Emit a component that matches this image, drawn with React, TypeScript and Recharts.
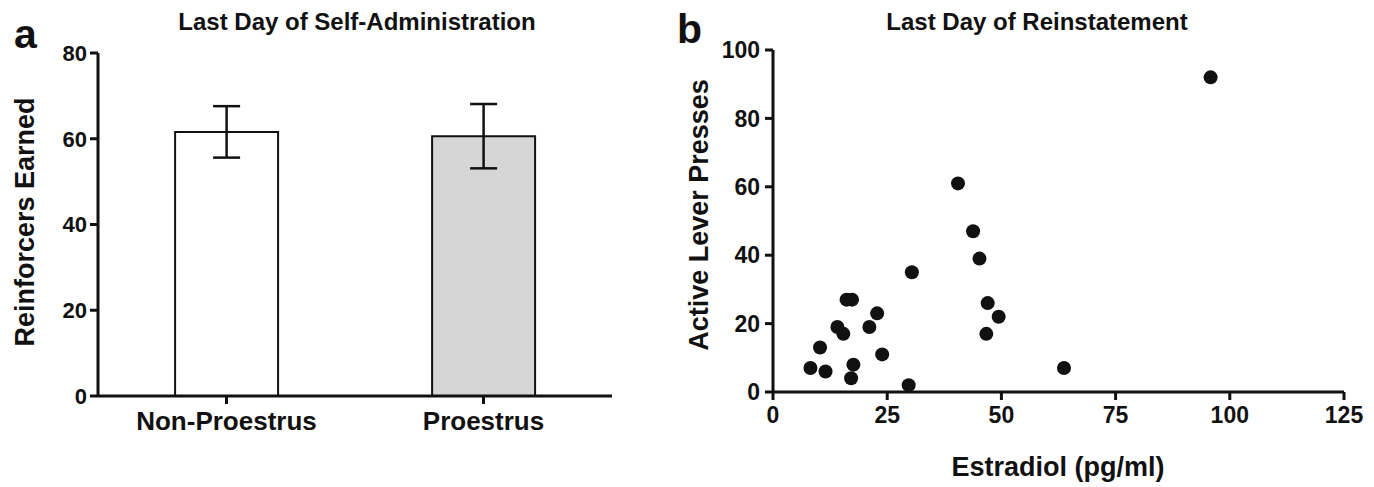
import { BarChart, Bar, Cell, XAxis, YAxis, ErrorBar, ScatterChart, Scatter } from "recharts"

// panel a: last day of self-administration
const groups = ["Non-Proestrus", "Proestrus"]
const reinforcers = [61.6, 60.6]
const reinforcersSem = [6.0, 7.5]
const barFills = ["#ffffff", "#d6d6d6"]
const reinforcerTicks = [0, 20, 40, 60, 80]

// panel b: last day of reinstatement, one point per rat
const estradiol = [8.2, 11.5, 10.3, 14.1, 15.4, 16.1, 17.3, 17.6, 17.1, 21.1, 22.8, 23.9, 30.4, 29.7, 45.2, 47.0, 49.4, 46.7, 63.7, 40.5, 43.8, 95.8]
const leverPresses = [7, 6, 13, 19, 17, 27, 27, 8, 4, 19, 23, 11, 35, 2, 39, 26, 22, 17, 7, 61, 47, 92]
const estradiolTicks = [0, 25, 50, 75, 100, 125]
const pressTicks = [0, 20, 40, 60, 80, 100]

const font = '"Liberation Sans", Arial, Helvetica, sans-serif'
const ink = "#111"

const barData = groups.map((g, i) => ({ group: g, mean: reinforcers[i], sem: reinforcersSem[i] }))
const scatterData = estradiol.map((x, i) => ({ x, y: leverPresses[i] }))

const axisLine = { stroke: ink, strokeWidth: 3 }
const tickLine = { stroke: ink, strokeWidth: 3 }

function SelfAdminPanel() {
  return (
    <BarChart
      width={620}
      height={487}
      data={barData}
      margin={{ top: 53, right: 8, left: 0, bottom: 51 }}
      barCategoryGap="30%"
      style={{ fontFamily: font }}
    >
      <XAxis
        dataKey="group"
        height={40}
        axisLine={axisLine}
        tickLine={tickLine}
        tickSize={8}
        tickMargin={8}
        tick={{ fontSize: 26, fontWeight: 700, fill: ink }}
      />
      <YAxis
        width={98}
        domain={[0, 80]}
        ticks={reinforcerTicks}
        axisLine={axisLine}
        tickLine={tickLine}
        tickSize={8}
        tickMargin={3}
        tick={{ fontSize: 22, fontWeight: 700, fill: ink }}
      />
      <Bar dataKey="mean" stroke={ink} strokeWidth={2} isAnimationActive={false}>
        {barData.map((d, i) => (
          <Cell key={d.group} fill={barFills[i]} />
        ))}
        <ErrorBar dataKey="sem" direction="y" width={13.5} stroke={ink} strokeWidth={2.5} isAnimationActive={false} />
      </Bar>
      <text x={14} y={48} fontSize={41} fontWeight={700} fill={ink}>a</text>
      <text x={357} y={30} fontSize={24} fontWeight={700} fill={ink} textAnchor="middle">
        Last Day of Self-Administration
      </text>
      <text
        x={34}
        y={222}
        fontSize={27}
        fontWeight={700}
        fill={ink}
        textAnchor="middle"
        transform="rotate(-90 34 222)"
      >
        Reinforcers Earned
      </text>
    </BarChart>
  )
}

function Dot(props: any) {
  return <circle cx={props.cx} cy={props.cy} r={7} fill={ink} />
}

function ReinstatementPanel() {
  return (
    <ScatterChart
      width={754}
      height={487}
      margin={{ top: 50, right: 30, left: 0, bottom: 55 }}
      style={{ fontFamily: font }}
    >
      <XAxis
        type="number"
        dataKey="x"
        domain={[0, 125]}
        ticks={estradiolTicks}
        height={40}
        axisLine={axisLine}
        tickLine={tickLine}
        tickSize={8}
        tickMargin={7}
        tick={{ fontSize: 23, fontWeight: 700, fill: ink }}
      />
      <YAxis
        type="number"
        dataKey="y"
        width={153}
        domain={[0, 100]}
        ticks={pressTicks}
        axisLine={axisLine}
        tickLine={tickLine}
        tickSize={8}
        tickMargin={5}
        tick={{ fontSize: 23, fontWeight: 700, fill: ink }}
      />
      <Scatter data={scatterData} shape={<Dot />} isAnimationActive={false} />
      <text x={57} y={43} fontSize={41} fontWeight={700} fill={ink}>b</text>
      <text x={417} y={30} fontSize={24} fontWeight={700} fill={ink} textAnchor="middle">
        Last Day of Reinstatement
      </text>
      <text
        x={88}
        y={215}
        fontSize={27}
        fontWeight={700}
        fill={ink}
        textAnchor="middle"
        transform="rotate(-90 88 215)"
      >
        Active Lever Presses
      </text>
      <text x={438} y={476} fontSize={27} fontWeight={700} fill={ink} textAnchor="middle">
        Estradiol (pg/ml)
      </text>
    </ScatterChart>
  )
}

export default function App() {
  return (
    <div
      style={{
        position: "absolute",
        left: 0,
        top: 0,
        width: 1374,
        height: 487,
        overflow: "hidden",
        background: "#fff",
      }}
    >
      <div style={{ position: "absolute", left: 0, top: 0 }}>
        <SelfAdminPanel />
      </div>
      <div style={{ position: "absolute", left: 620, top: 0 }}>
        <ReinstatementPanel />
      </div>
    </div>
  )
}
